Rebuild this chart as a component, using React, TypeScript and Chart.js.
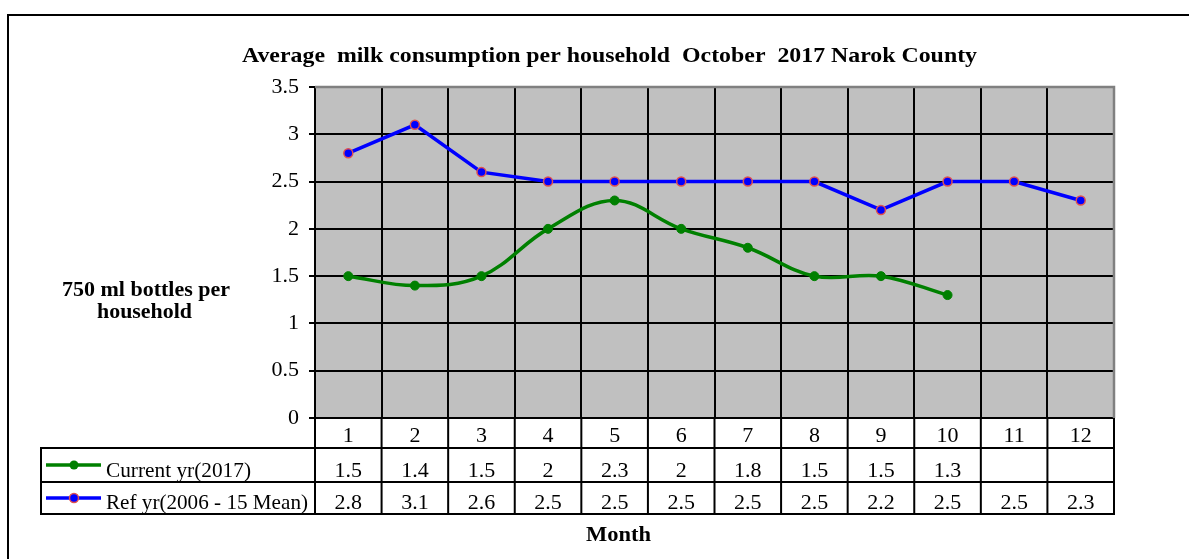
import { useEffect, useRef } from "react";
import { Chart, registerables } from "chart.js";

Chart.register(...registerables);

const months = ["1", "2", "3", "4", "5", "6", "7", "8", "9", "10", "11", "12"];
const currentYr: (number | null)[] = [1.5, 1.4, 1.5, 2, 2.3, 2, 1.8, 1.5, 1.5, 1.3, null, null];
const refYr: number[] = [2.8, 3.1, 2.6, 2.5, 2.5, 2.5, 2.5, 2.5, 2.2, 2.5, 2.5, 2.3];
const currentLabel = "Current yr(2017)";
const refLabel = "Ref yr(2006 - 15 Mean)";
const chartTitle = "Average  milk consumption per household  October  2017 Narok County";
const yTitleLines = ["750 ml bottles per", "household"];
const xTitle = "Month";

const SERIF = '"Liberation Serif", "Times New Roman", serif';
const GREEN = "#008000";
const BLUE = "#0000FF";
const RED = "#E05050";

function fitText(
  ctx: CanvasRenderingContext2D,
  text: string,
  x: number,
  y: number,
  font: string,
  width: number,
  align: "left" | "center" | "right" = "left"
) {
  ctx.save();
  ctx.font = font;
  const w = ctx.measureText(text).width;
  const s = width / w;
  const x0 = align === "left" ? x : align === "center" ? x - width / 2 : x - width;
  ctx.translate(x0, y);
  ctx.scale(s, 1);
  ctx.textAlign = "left";
  ctx.textBaseline = "alphabetic";
  ctx.fillStyle = "#000";
  ctx.fillText(text, 0, 0);
  ctx.restore();
}

const decorPlugin = {
  id: "decor",
  beforeDraw(chart: any) {
    const { ctx, chartArea } = chart;
    ctx.save();
    ctx.fillStyle = "#fff";
    ctx.fillRect(0, 0, chart.width, chart.height);
    ctx.fillStyle = "#C0C0C0";
    ctx.fillRect(chartArea.left, chartArea.top, chartArea.right - chartArea.left, chartArea.bottom - chartArea.top);
    ctx.strokeStyle = "#000";
    ctx.lineWidth = 2;
    ctx.beginPath();
    ctx.moveTo(8, chart.height + 10);
    ctx.lineTo(8, 15);
    ctx.lineTo(chart.width + 10, 15);
    ctx.stroke();
    ctx.restore();
  },
  beforeDatasetsDraw(chart: any) {
    const { ctx, chartArea } = chart;
    ctx.save();
    ctx.strokeStyle = "#808080";
    ctx.lineWidth = 2.5;
    ctx.beginPath();
    ctx.moveTo(chartArea.left, chartArea.top);
    ctx.lineTo(chartArea.right, chartArea.top);
    ctx.lineTo(chartArea.right, chartArea.bottom);
    ctx.stroke();
    ctx.restore();
  },
  afterDraw(chart: any) {
    const { ctx, chartArea } = chart;
    const xs = chart.scales.x;
    const n = months.length;
    const colW = (chartArea.right - chartArea.left) / n;
    const r0 = chartArea.bottom;
    const r1 = r0 + 30;
    const r2 = r0 + 64;
    const r3 = r0 + 96;
    const tableLeft = 41;
    ctx.save();
    ctx.strokeStyle = "#000";
    ctx.lineWidth = 2;
    ctx.beginPath();
    [r1, r2, r3].forEach((y) => {
      ctx.moveTo(tableLeft, y);
      ctx.lineTo(chartArea.right + 1, y);
    });
    ctx.moveTo(tableLeft, r1 - 1);
    ctx.lineTo(tableLeft, r3 + 1);
    for (let k = 0; k <= n; k++) {
      const x = xs.getPixelForValue(k) - colW / 2;
      ctx.moveTo(x, r0);
      ctx.lineTo(x, r3 + 1);
    }
    ctx.stroke();

    const rowMid1 = (r1 + r2) / 2;
    const rowMid2 = (r2 + r3) / 2;
    ctx.lineWidth = 3.5;
    ctx.strokeStyle = GREEN;
    ctx.beginPath();
    ctx.moveTo(46, rowMid1);
    ctx.lineTo(101, rowMid1);
    ctx.stroke();
    ctx.fillStyle = GREEN;
    ctx.beginPath();
    ctx.arc(74, rowMid1, 4.5, 0, Math.PI * 2);
    ctx.fill();

    ctx.strokeStyle = BLUE;
    ctx.beginPath();
    ctx.moveTo(46, rowMid2);
    ctx.lineTo(101, rowMid2);
    ctx.stroke();
    ctx.fillStyle = BLUE;
    ctx.strokeStyle = RED;
    ctx.lineWidth = 1.5;
    ctx.beginPath();
    ctx.arc(74, rowMid2, 4.5, 0, Math.PI * 2);
    ctx.fill();
    ctx.stroke();

    fitText(ctx, currentLabel, 106, r1 + 29, `22px ${SERIF}`, 145);
    fitText(ctx, refLabel, 106, r2 + 27, `22px ${SERIF}`, 202);

    ctx.font = `22px ${SERIF}`;
    ctx.fillStyle = "#000";
    ctx.textAlign = "center";
    ctx.textBaseline = "alphabetic";
    for (let i = 0; i < n; i++) {
      const x = xs.getPixelForValue(i);
      const c = currentYr[i];
      if (c !== null && c !== undefined) ctx.fillText(String(c), x, r1 + 29);
      ctx.fillText(String(refYr[i]), x, r2 + 27);
    }

    fitText(ctx, chartTitle, 242, 62, `bold 22px ${SERIF}`, 735);
    fitText(ctx, yTitleLines[0], 62, 296, `bold 21px ${SERIF}`, 168);
    fitText(ctx, yTitleLines[1], 97, 318, `bold 21px ${SERIF}`, 95);
    fitText(ctx, xTitle, 586, 541, `bold 20px ${SERIF}`, 65);
    ctx.restore();
  },
};

export default function App() {
  const ref = useRef<HTMLCanvasElement | null>(null);
  useEffect(() => {
    if (!ref.current) return;
    const chart = new Chart(ref.current, {
      type: "line",
      data: {
        labels: months,
        datasets: [
          {
            label: currentLabel,
            data: currentYr,
            borderColor: GREEN,
            backgroundColor: GREEN,
            borderWidth: 3.5,
            tension: 0.38,
            pointRadius: 4.5,
            pointBackgroundColor: GREEN,
            pointBorderColor: GREEN,
            pointBorderWidth: 1,
            spanGaps: false,
          },
          {
            label: refLabel,
            data: refYr,
            borderColor: BLUE,
            backgroundColor: BLUE,
            borderWidth: 3.5,
            tension: 0,
            pointRadius: 4.5,
            pointBackgroundColor: BLUE,
            pointBorderColor: RED,
            pointBorderWidth: 1.5,
          },
        ],
      },
      options: {
        responsive: false,
        animation: false,
        layout: { padding: { left: 8, top: 87, right: 75, bottom: 0 } },
        plugins: {
          legend: { display: false },
          title: { display: false },
          tooltip: { enabled: false },
        },
        scales: {
          x: {
            offset: true,
            grid: {
              color: "#000",
              lineWidth: 2,
              offset: true,
              drawTicks: false,
            },
            border: { color: "#000", width: 2 },
            ticks: {
              color: "#000",
              font: { family: SERIF, size: 22 },
              padding: 5,
              maxRotation: 0,
            },
            afterFit(scale: any) {
              scale.height = 141;
            },
          },
          y: {
            min: 0,
            max: 3.5,
            ticks: {
              stepSize: 0.5,
              color: "#000",
              font: { family: SERIF, size: 22 },
              padding: 10,
              callback: (v: any) => String(v),
            },
            grid: { color: "#000", lineWidth: 2, tickLength: 6 },
            border: { color: "#000", width: 2 },
            afterFit(scale: any) {
              scale.width = 307;
            },
          },
        },
      },
      plugins: [decorPlugin],
    });
    return () => chart.destroy();
  }, []);
  return (
    <div style={{ position: "fixed", left: 0, top: 0, width: 1189, height: 559, background: "#fff" }}>
      <canvas ref={ref} width={1189} height={559} style={{ display: "block" }} />
    </div>
  );
}
